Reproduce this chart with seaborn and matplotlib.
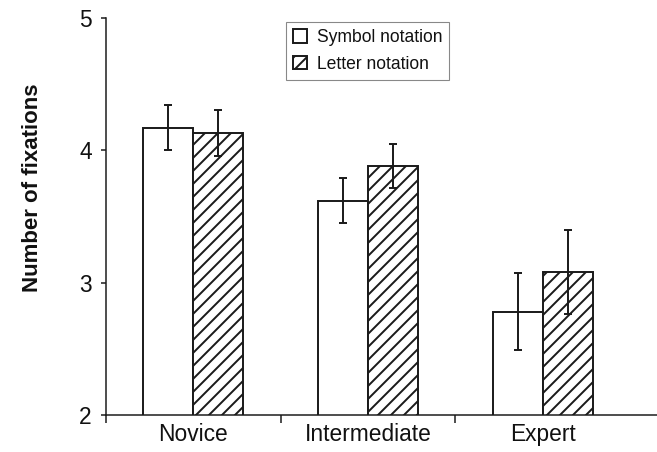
import matplotlib
matplotlib.use("Agg")
import matplotlib.pyplot as plt
import seaborn as sns
import pandas as pd

# ---- data ----
groups = ["Novice", "Intermediate", "Expert"]
notations = ["Symbol notation", "Letter notation"]
symbol_means = [4.17, 3.62, 2.78]
letter_means = [4.13, 3.88, 3.08]
symbol_err = [0.17, 0.17, 0.29]
letter_err = [0.175, 0.165, 0.315]
yticks = [2, 3, 4, 5]
ylabel = "Number of fixations"

df = pd.DataFrame({
    "group": groups * 2,
    "notation": [notations[0]] * len(groups) + [notations[1]] * len(groups),
    "fix": symbol_means + letter_means,
})

DPI = 78
INK = "#1a1a1a"
sns.set_theme(style="ticks")
plt.rcParams["font.family"] = ["Liberation Sans", "DejaVu Sans"]
plt.rcParams["hatch.linewidth"] = 1.8
plt.rcParams["hatch.color"] = INK
plt.rcParams["text.color"] = "#111111"
plt.rcParams["axes.labelcolor"] = "#111111"
plt.rcParams["xtick.color"] = INK
plt.rcParams["ytick.color"] = INK
plt.rcParams["xtick.labelcolor"] = "#111111"
plt.rcParams["ytick.labelcolor"] = "#111111"

fig = plt.figure(figsize=(657 / DPI, 452 / DPI), dpi=DPI, facecolor="white")
ax = fig.add_axes([106 / 657, 37 / 452, 551 / 657, 397 / 452])

sns.barplot(data=df, x="group", y="fix", hue="notation", order=groups,
            hue_order=notations, palette=["white", "white"], saturation=1,
            width=0.572, edgecolor=INK, linewidth=1.8, errorbar=None,
            legend=False, ax=ax)

bar_conts = list(ax.containers)
for b in bar_conts[1]:
    b.set_hatch("//")

for cont, errs in zip(bar_conts, [symbol_err, letter_err]):
    xs = [b.get_x() + b.get_width() / 2 for b in cont]
    ys = [b.get_y() + b.get_height() for b in cont]
    ax.errorbar(xs, ys, yerr=errs, fmt="none", ecolor=INK, elinewidth=1.8,
                capsize=3.4, capthick=1.8, zorder=5)

ax.set_xlim(-0.5, 2.654)
ax.set_ylim(2, 5)
ax.set_yticks(yticks)
ax.set_xticks([-0.5, 0.5, 1.5], minor=True)
sns.despine(ax=ax)
for s in ["left", "bottom"]:
    ax.spines[s].set_linewidth(1.4)
    ax.spines[s].set_color(INK)

ax.tick_params(axis="x", which="major", length=0, pad=7, labelsize=21)
ax.tick_params(axis="x", which="minor", length=7.5, width=1.4, direction="out")
ax.tick_params(axis="y", which="major", length=4.6, width=1.4, pad=8.5,
               labelsize=21, direction="out")

ax.set_xlabel("")
ax.set_ylabel(ylabel, fontsize=20.5, fontweight="bold")
ax.yaxis.set_label_coords(-0.115, 0.572)

leg = ax.legend(handles=bar_conts[:2], labels=notations, loc="upper left",
                bbox_to_anchor=(286 / 657, 1 - 22 / 452),
                bbox_transform=fig.transFigure, fontsize=16.2, frameon=True,
                fancybox=False, edgecolor="#888888", framealpha=1,
                borderaxespad=0, borderpad=0.4, handlelength=0.8,
                handleheight=0.8, handletextpad=0.55, labelspacing=0.55)
leg.get_frame().set_linewidth(1.0)

fig.savefig("out.png", dpi=DPI, facecolor="white")
